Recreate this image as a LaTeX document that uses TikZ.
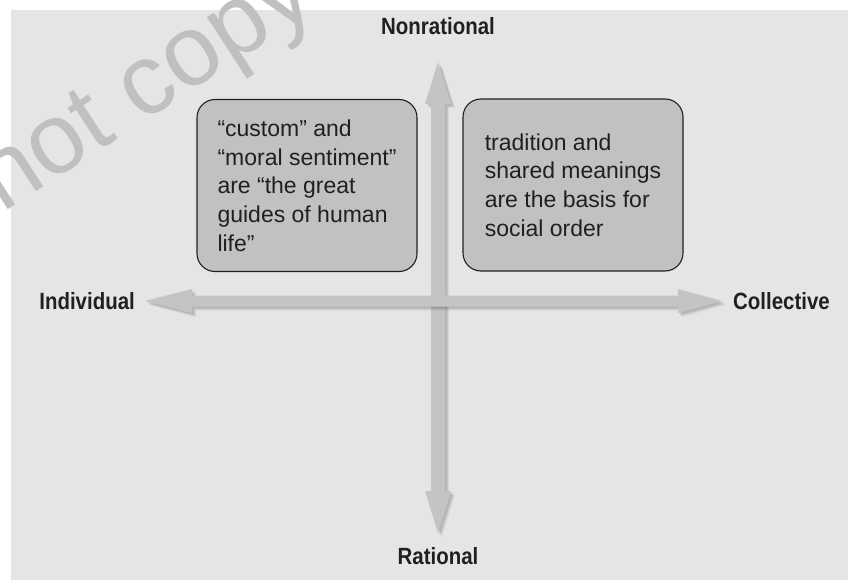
\documentclass[tikz,border=0pt]{standalone}
\usepackage{fontspec}
\setmainfont{Liberation Sans}
\newfontfamily\labfont[FakeStretch=0.87]{Liberation Sans Bold}
\definecolor{bg}{HTML}{E4E5E7}
\definecolor{boxfill}{HTML}{C0C1C3}
\definecolor{arrowfill}{HTML}{C3C4C6}
\definecolor{ink}{HTML}{231F20}
\definecolor{wm}{HTML}{BFC0C2}
\begin{document}
\begin{tikzpicture}[x=1pt,y=-1pt,
  qbox/.style={draw=ink, line width=1.1pt, fill=boxfill, rounded corners=18pt,
    minimum width=220pt, minimum height=172pt, align=left, text=ink,
    font=\fontsize{23}{28.7}\selectfont, inner sep=0pt},
  axislabel/.style={text=ink, font=\labfont\fontsize{23.5}{24}\selectfont, inner sep=0pt},
  axisfill/.style={fill=arrowfill},
  axisshadow/.style={fill=black, opacity=#1}]
\useasboundingbox (0,0) rectangle (848,580);
\begin{scope}
\clip (0,0) rectangle (848,580);
\fill[bg] (11,10) rectangle (848,580);
% watermark
\node[anchor=base west, rotate=33, text=wm, inner sep=0pt,
  font=\fontsize{100}{100}\selectfont] (wmark) at (2,214) {not copy};
\end{scope}
% boxes
\node[qbox] (left) at (307,185.5) {“custom” and\\“moral sentiment”\\are “the great\\guides of human\\life”};
\node[qbox] (right) at (573,185) {tradition and\\shared meanings\\are the basis for\\social order};
% labels
\node[axislabel] (nonr) at (438,26) {Nonrational};
\node[axislabel] (rat) at (438,556.5) {Rational};
\node[axislabel, anchor=east] (ind) at (135,301) {Individual};
\node[axislabel, anchor=west] (col) at (733,301) {Collective};
% vertical axis
\foreach \d/\o in {4/0.05,3/0.07,2/0.09}{
  \fill[axisshadow=\o, shift={(\d,\d)}] (438,62) -- (451,104) -- (445,104) -- (445,491) -- (451,491) -- (438,533) -- (425,491) -- (431,491) -- (431,104) -- (425,104) -- cycle;
}
\fill[axisfill] (438,62) -- (451,104) -- (445,104) -- (445,491) -- (451,491) -- (438,533) -- (425,491) -- (431,491) -- (431,104) -- (425,104) -- cycle;
% horizontal axis
\foreach \d/\o in {4/0.05,3/0.07,2/0.09}{
  \fill[axisshadow=\o, shift={(\d,\d)}] (145,301) -- (192,289) -- (192,295.5) -- (678,295.5) -- (678,289) -- (722,301) -- (678,313) -- (678,306.5) -- (192,306.5) -- (192,313) -- cycle;
}
\fill[axisfill] (145,301) -- (192,289) -- (192,295.5) -- (678,295.5) -- (678,289) -- (722,301) -- (678,313) -- (678,306.5) -- (192,306.5) -- (192,313) -- cycle;
\end{tikzpicture}
\end{document}
